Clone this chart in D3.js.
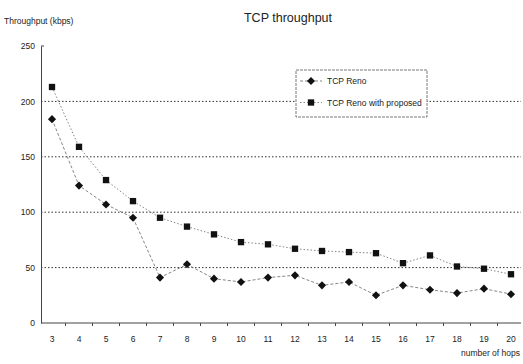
<!DOCTYPE html>
<html>
<head>
<meta charset="utf-8">
<script src="https://cdn.jsdelivr.net/npm/d3@7/dist/d3.min.js"></script>
<style>
  body { margin: 0; background: #fff; }
  text { font-family: "Liberation Sans", Arial, sans-serif; fill: #222; }
</style>
</head>
<body>
<svg id="chart" width="523" height="364"></svg>
<script>
// data
const hops = [3, 4, 5, 6, 7, 8, 9, 10, 11, 12, 13, 14, 15, 16, 17, 18, 19, 20];
const reno = [184, 124, 107, 95, 41, 53, 40, 37, 41, 43, 34, 37, 25, 34, 30, 27, 31, 26];
const renoProposed = [213, 159, 129, 110, 95, 87, 80, 73, 71, 67, 65, 64, 63, 54, 61, 51, 49, 44];
const yTicks = [0, 50, 100, 150, 200, 250];
const seriesNames = ["TCP Reno", "TCP Reno with proposed"];

const svg = d3.select("#chart");
const margin = { top: 46, left: 41, right: 521, bottom: 323 };

const x = d3.scaleBand().domain(hops).range([38.5, 524.5]);
const y = d3.scaleLinear().domain([0, 250]).range([margin.bottom, margin.top]);

// title + axis titles
svg.append("text").attr("x", 288).attr("y", 22).attr("text-anchor", "middle")
  .style("font-size", "12.5px").text("TCP throughput");
svg.append("text").attr("x", 4).attr("y", 24)
  .style("font-size", "8.5px").text("Throughput (kbps)");
svg.append("text").attr("x", 520).attr("y", 356).attr("text-anchor", "end")
  .style("font-size", "8.5px").text("number of hops");

// grid lines
svg.append("g").selectAll("line")
  .data(yTicks.filter(d => d > 0 && d < 250))
  .enter().append("line")
  .attr("x1", margin.left).attr("x2", margin.right)
  .attr("y1", d => y(d)).attr("y2", d => y(d))
  .attr("stroke", "#333").attr("stroke-width", 1)
  .attr("stroke-dasharray", "1.5,2");

// y axis
const yAxis = svg.append("g")
  .attr("transform", `translate(${margin.left},0)`)
  .call(d3.axisLeft(y).tickValues(yTicks).tickSize(0).tickPadding(6));
yAxis.select(".domain").attr("stroke", "#444");
yAxis.selectAll("text").style("font-size", "8.5px").style("fill", "#222");
svg.append("line").attr("x1", margin.left).attr("x2", margin.left + 3)
  .attr("y1", y(250)).attr("y2", y(250)).attr("stroke", "#444");

// x axis
svg.append("line").attr("x1", margin.left).attr("x2", margin.right)
  .attr("y1", y(0)).attr("y2", y(0)).attr("stroke", "#444");
svg.append("g").selectAll("line")
  .data(hops.slice(1))
  .enter().append("line")
  .attr("x1", d => x(d)).attr("x2", d => x(d))
  .attr("y1", y(0)).attr("y2", y(0) + 3)
  .attr("stroke", "#444");
svg.append("g").selectAll("text")
  .data(hops)
  .enter().append("text")
  .attr("x", d => x(d) + x.bandwidth() / 2)
  .attr("y", y(0) + 19)
  .attr("text-anchor", "middle")
  .style("font-size", "8.5px")
  .text(d => d);

// series
const line = d3.line()
  .x((d, i) => x(hops[i]) + x.bandwidth() / 2)
  .y(d => y(d));

const diamond = d3.symbol().type(d3.symbolDiamond2).size(42);
const square = d3.symbol().type(d3.symbolSquare).size(40);

function drawSeries(vals, dash, sym) {
  svg.append("path").datum(vals)
    .attr("d", line)
    .attr("fill", "none").attr("stroke", "#777")
    .attr("stroke-width", 0.9)
    .attr("stroke-dasharray", dash);
  svg.append("g").selectAll("path")
    .data(vals)
    .enter().append("path")
    .attr("d", sym)
    .attr("transform", (d, i) => `translate(${x(hops[i]) + x.bandwidth() / 2},${y(d)})`)
    .attr("fill", "#111");
}
drawSeries(reno, "3,2", diamond);
drawSeries(renoProposed, "1.5,2", square);

// legend
const lg = svg.append("g").attr("transform", "translate(296,70)");
lg.append("rect").attr("width", 131).attr("height", 47)
  .attr("fill", "#fff").attr("stroke", "#555").attr("stroke-width", 0.8)
  .attr("stroke-dasharray", "3,1");
const items = [
  { name: seriesNames[0], sym: diamond, dash: "3,2" },
  { name: seriesNames[1], sym: square, dash: "1.5,2" }
];
items.forEach((it, i) => {
  const yy = 11 + i * 21.5;
  lg.append("line").attr("x1", 4).attr("x2", 26).attr("y1", yy).attr("y2", yy)
    .attr("stroke", "#777").attr("stroke-width", 0.9).attr("stroke-dasharray", it.dash);
  lg.append("path").attr("d", it.sym).attr("transform", `translate(15,${yy})`).attr("fill", "#111");
  lg.append("text").attr("x", 31).attr("y", yy + 3).style("font-size", "8.5px").text(it.name);
});
</script>
</body>
</html>
